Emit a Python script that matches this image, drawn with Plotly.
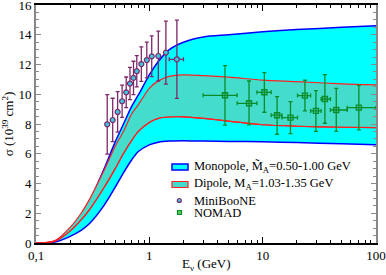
import plotly.graph_objects as go

# ---- data ----
E_curve = [0.1, 0.12, 0.15, 0.2, 0.25, 0.3, 0.4, 0.5, 0.6, 0.7, 0.8, 1.0, 1.2, 1.5, 2, 3, 5, 10, 20, 50, 100]
mono_hi = [0, 0.0, 0.15, 0.95, 1.9, 2.9, 5.0, 6.8, 8.1, 9.2, 9.95, 11.3, 12.2, 13.0, 13.5, 13.85, 14.0, 14.2, 14.35, 14.5, 14.6]
mono_lo = [0, 0.0, 0.08, 0.45, 0.85, 1.35, 2.55, 3.75, 4.8, 5.6, 6.15, 6.6, 6.78, 6.86, 6.88, 6.85, 6.83, 6.8, 6.75, 6.67, 6.6]
dip_hi = [0, 0.02, 0.2, 1.05, 2.0, 3.0, 4.9, 6.5, 7.6, 8.7, 9.3, 10.4, 10.9, 11.2, 11.3, 11.25, 11.15, 10.95, 10.85, 10.7, 10.63]
dip_lo = [0, 0.01, 0.15, 0.8, 1.55, 2.3, 3.75, 5.0, 6.1, 6.9, 7.5, 8.1, 8.38, 8.47, 8.48, 8.38, 8.2, 7.95, 7.85, 7.78, 7.75]

mb_E = [0.425, 0.475, 0.525, 0.575, 0.625, 0.675, 0.725, 0.775, 0.85, 0.95, 1.05, 1.2, 1.4, 1.75]
mb_sig = [7.98, 8.27, 8.81, 9.53, 10.13, 10.72, 11.1, 11.55, 12.03, 12.3, 12.55, 12.57, 12.8, 12.35]
mb_err = [2.0, 1.46, 1.36, 1.08, 1.03, 1.08, 1.12, 1.05, 1.16, 1.2, 1.37, 1.68, 2.12, 2.63]
mb_xlo = [0, 0, 0, 0, 0, 0, 0, 0, 0, 0, 0, 0, 0, 0.25]
mb_xhi = [0, 0, 0, 0, 0, 0, 0, 0, 0, 0, 0, 0, 0, 0.25]

nd_E = [4.65, 7.58, 10.35, 13.4, 17.6, 23.6, 29.5, 35.4, 44.6, 70.6]
nd_sig = [9.93, 9.39, 10.13, 8.59, 8.43, 9.91, 8.88, 9.68, 8.94, 9.1]
nd_eup = [1.99, 1.50, 1.32, 1.25, 1.07, 1.03, 1.36, 1.64, 1.46, 1.5]
nd_edn = [2.01, 1.45, 1.34, 1.28, 1.08, 1.03, 1.37, 1.63, 1.43, 1.5]
nd_Elo = [2.98, 5.95, 8.9, 11.9, 14.8, 20.3, 26.5, 32.8, 39.6, 55.7]
nd_Ehi = [5.95, 8.9, 11.9, 14.8, 20.3, 26.5, 32.8, 39.6, 55.7, 100]

x_tickvals = [0.1, 1, 10, 100]
x_ticktext = ["0,1", "1", "10", "100"]
y_tickvals = [0, 2, 4, 6, 8, 10, 12, 14, 16]

legend_labels = ["Monopole, M\u0303<sub>A</sub>=0.50-1.00 GeV", "Dipole, M<sub>A</sub>=1.03-1.35 GeV", "MiniBooNE", "NOMAD"]
x_title = "E<sub>\u03bd</sub> (GeV)"
y_title = "\u03c3 (10<sup>39</sup> cm<sup>2</sup>)"

CYAN = "#00FFFF"
TURQ = "#44DDCC"
BLUE = "#0000FF"
RED = "#FF2020"
PURPLE = "rgb(125,40,105)"
GREEN = "rgb(10,140,40)"
FONT = "Liberation Serif"

fig = go.Figure()
fig.add_trace(go.Scatter(x=E_curve, y=mono_lo, mode="lines", line=dict(color=BLUE, width=1.5, shape="spline", smoothing=0.8), showlegend=False))
fig.add_trace(go.Scatter(x=E_curve, y=mono_hi, mode="lines", fill="tonexty", fillcolor=CYAN,
                         line=dict(color=BLUE, width=1.5, shape="spline", smoothing=0.8), showlegend=False))
fig.add_trace(go.Scatter(x=E_curve, y=dip_lo, mode="lines", line=dict(color=RED, width=1.2, shape="spline", smoothing=0.8), showlegend=False))
fig.add_trace(go.Scatter(x=E_curve, y=dip_hi, mode="lines", fill="tonexty", fillcolor=TURQ,
                         line=dict(color=RED, width=1.2, shape="spline", smoothing=0.8), showlegend=False))
fig.add_trace(go.Scatter(x=E_curve, y=dip_lo, mode="lines", line=dict(color=RED, width=1.2, shape="spline", smoothing=0.8), showlegend=False))

fig.add_trace(go.Scatter(
    x=mb_E, y=mb_sig, mode="markers",
    marker=dict(symbol="circle", size=5, color="rgb(60,200,220)", line=dict(color=PURPLE, width=1.2)),
    error_y=dict(type="data", array=mb_err, color=PURPLE, thickness=1.3, width=2),
    error_x=dict(type="data", array=mb_xhi, arrayminus=mb_xlo, color=PURPLE, thickness=1.3, width=2),
    showlegend=False))

nd_xp = [h - e for h, e in zip(nd_Ehi, nd_E)]
nd_xm = [e - l for e, l in zip(nd_E, nd_Elo)]
fig.add_trace(go.Scatter(
    x=nd_E, y=nd_sig, mode="markers",
    marker=dict(symbol="square-open", size=5, color=GREEN, line=dict(color=GREEN, width=1.4)),
    error_y=dict(type="data", array=nd_eup, arrayminus=nd_edn, color=GREEN, thickness=1.3, width=2),
    error_x=dict(type="data", array=nd_xp, arrayminus=nd_xm, color=GREEN, thickness=1.3, width=2),
    showlegend=False))

# ---- manual legend (paper coordinates) ----
x0p, y0p, wp, hp = 36, 5, 340, 238
def px(x):
    return (x - x0p) / wp
def py(y):
    return (y0p + hp - y) / hp

shapes = [
    dict(type="rect", xref="paper", yref="paper", x0=px(172), x1=px(188), y0=py(170), y1=py(164),
         fillcolor=CYAN, line=dict(color=BLUE, width=1.5)),
    dict(type="rect", xref="paper", yref="paper", x0=px(172), x1=px(188), y0=py(187.5), y1=py(181.5),
         fillcolor=TURQ, line=dict(color=RED, width=1.2)),
    dict(type="circle", xref="paper", yref="paper", x0=px(177.3), x1=px(181.3), y0=py(202.5), y1=py(198.5),
         fillcolor="rgb(60,200,220)", line=dict(color=PURPLE, width=1.2)),
    dict(type="rect", xref="paper", yref="paper", x0=px(177.5), x1=px(181.5), y0=py(214.5), y1=py(210.5),
         fillcolor="rgb(90,200,90)", line=dict(color=GREEN, width=1.2)),
]
ann = []
for lab, yy in zip(legend_labels, [166.5, 184, 200.5, 212.5]):
    ann.append(dict(xref="paper", yref="paper", x=px(192), y=py(yy), text=lab, showarrow=False,
                    xanchor="left", yanchor="middle", font=dict(family=FONT, size=12.5, color="black")))
ann.append(dict(xref="paper", yref="paper", x=0.5, y=py(264), text=x_title, showarrow=False,
                xanchor="center", yanchor="middle", font=dict(family=FONT, size=13, color="black")))

minor_x = [v * d for d in (0.1, 1, 10) for v in range(2, 10)]

fig.update_layout(
    width=386, height=275,
    margin=dict(l=36, r=10, t=5, b=32),
    plot_bgcolor="white", paper_bgcolor="white",
    font=dict(family=FONT, size=13, color="black"),
    shapes=shapes, annotations=ann,
    xaxis=dict(type="log", range=[-1, 2], tickvals=x_tickvals, ticktext=x_ticktext, automargin=False,
               ticks="inside", ticklen=6, tickcolor="black", showline=True, linecolor="black", linewidth=1.5,
               mirror="ticks", showgrid=False, zeroline=False, ticklabeloverflow="allow",
               minor=dict(tickvals=minor_x, ticks="inside", ticklen=3, tickcolor="black", showgrid=False),
               tickfont=dict(size=13)),
    yaxis=dict(range=[0, 16], tickvals=y_tickvals, ticks="inside", ticklen=5, tickcolor="#888888", automargin=False,
               showline=True, linecolor="#888888", linewidth=2, mirror="ticks", showgrid=False, zeroline=False,
               ticklabeloverflow="allow",
               minor=dict(dtick=0.5, ticks="inside", ticklen=3, tickcolor="#888888", showgrid=False),
               title=dict(text=y_title, font=dict(size=13), standoff=3),
               tickfont=dict(size=13)),
)

fig.write_html("out.html", config={"displayModeBar": False},
               post_script="document.body.style.margin='0';document.body.style.padding='0';")
